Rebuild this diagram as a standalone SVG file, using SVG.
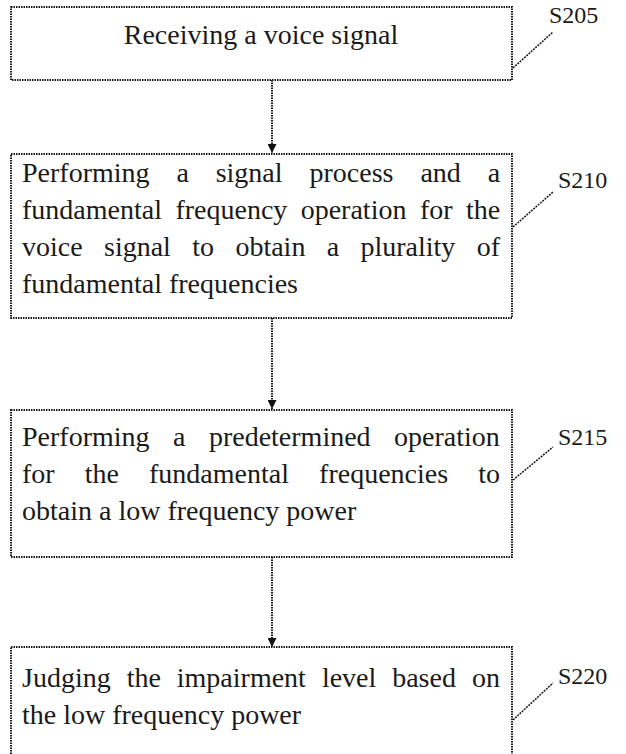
<svg xmlns="http://www.w3.org/2000/svg" width="626" height="754" viewBox="0 0 626 754">
<style>
.box{fill:#fff;stroke:#1a1a1a;stroke-width:2;stroke-dasharray:1.5 1}
.t{font-family:"Liberation Serif","Times New Roman",serif;font-size:28px;fill:#1a1a1a}
.lbl{font-family:"Liberation Serif","Times New Roman",serif;font-size:24px;fill:#1a1a1a}
.ld{stroke:#1a1a1a;stroke-width:1.5;stroke-dasharray:2 1;fill:none}
.cn{stroke:#1a1a1a;stroke-width:2;stroke-dasharray:1.5 1;fill:none}
</style>
<defs>
<marker id="ah" viewBox="0 0 10 10" refX="10" refY="5" markerWidth="11" markerHeight="9" markerUnits="userSpaceOnUse" orient="auto"><path d="M0,0 L10,5 L0,10 z" fill="#111"/></marker>
</defs>
<g id="connectors">
<line class="cn" x1="272" y1="80" x2="272" y2="153" marker-end="url(#ah)"/>
<line class="cn" x1="272" y1="318" x2="272" y2="409" marker-end="url(#ah)"/>
<line class="cn" x1="272" y1="557" x2="272" y2="647" marker-end="url(#ah)"/>
</g>
<g id="s205">
<rect class="box" x="11" y="7" width="501" height="73"/>
<text class="t" x="261" y="44" text-anchor="middle">Receiving a voice signal</text>
<line class="ld" x1="513" y1="68" x2="553" y2="32"/>
<text class="lbl" x="549" y="23">S205</text>
</g>
<g id="s210">
<rect class="box" x="11" y="154" width="501" height="164"/>
<text class="t" y="182"><tspan x="22">Performing</tspan><tspan x="176.4">a</tspan><tspan x="215.7">signal</tspan><tspan x="309.5">process</tspan><tspan x="420.4">and</tspan><tspan x="487.7">a</tspan></text>
<text class="t" y="219"><tspan x="22">fundamental</tspan><tspan x="175.4">frequency</tspan><tspan x="300.7">operation</tspan><tspan x="419.9">for</tspan><tspan x="465.9">the</tspan></text>
<text class="t" y="256"><tspan x="22">voice</tspan><tspan x="104">signal</tspan><tspan x="192.2">to</tspan><tspan x="235.4">obtain</tspan><tspan x="326.7">a</tspan><tspan x="360.5">plurality</tspan><tspan x="476.7">of</tspan></text>
<text class="t" x="22" y="293">fundamental frequencies</text>
<line class="ld" x1="513" y1="227" x2="553" y2="192"/>
<text class="lbl" x="558" y="188">S210</text>
</g>
<g id="s215">
<rect class="box" x="11" y="410" width="501" height="147"/>
<text class="t" y="446"><tspan x="22">Performing</tspan><tspan x="173">a</tspan><tspan x="208.9">predetermined</tspan><tspan x="394.1">operation</tspan></text>
<text class="t" y="483"><tspan x="22">for</tspan><tspan x="84.7">the</tspan><tspan x="149">fundamental</tspan><tspan x="319.1">frequencies</tspan><tspan x="478.3">to</tspan></text>
<text class="t" x="22" y="520">obtain a low frequency power</text>
<line class="ld" x1="513" y1="480" x2="553" y2="447"/>
<text class="lbl" x="558" y="445">S215</text>
</g>
<g id="s220">
<rect class="box" x="11" y="647" width="501" height="120"/>
<text class="t" y="687"><tspan x="22">Judging</tspan><tspan x="126.7">the</tspan><tspan x="176.8">impairment</tspan><tspan x="321.9">level</tspan><tspan x="392.2">based</tspan><tspan x="472">on</tspan></text>
<text class="t" x="22" y="724">the low frequency power</text>
<line class="ld" x1="513" y1="720" x2="553" y2="683"/>
<text class="lbl" x="558" y="684">S220</text>
</g>
</svg>
